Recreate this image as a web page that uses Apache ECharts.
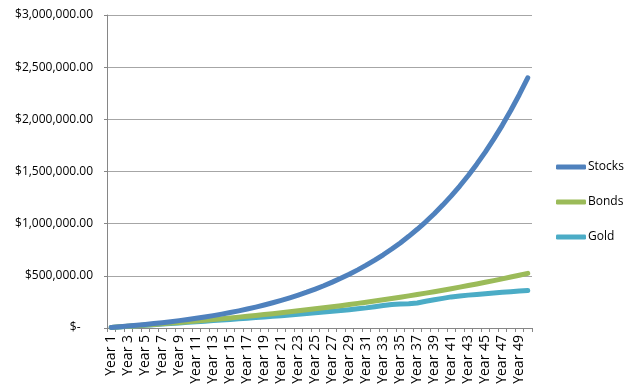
<!DOCTYPE html>
<html>
<head>
<meta charset="utf-8">
<script src="https://cdn.jsdelivr.net/npm/echarts@6/dist/echarts.min.js"></script>
<style>
html,body{margin:0;padding:0;background:#fff;}
#chart{width:640px;height:389px;}
</style>
</head>
<body>
<div id="chart"></div>
<script>
var years = [];
for (var i = 1; i <= 50; i++) years.push('Year ' + i);

var stocks = [5900, 12200, 19000, 26200, 33900, 42200, 51100, 60500, 70700, 81500,
  93100, 105500, 118800, 133000, 148300, 164500, 182000, 200600, 220500, 241900,
  264700, 289100, 315300, 343200, 373200, 405200, 439500, 476100, 515400, 557300,
  602200, 650300, 701700, 756700, 815600, 878600, 946000, 1018100, 1095300, 1177900,
  1266200, 1360800, 1461900, 1570200, 1686000, 1809800, 1942500, 2084300, 2236100, 2398500];

var bonds = [5400, 10900, 16500, 22300, 28300, 34300, 40600, 47000, 53500, 60200,
  67100, 74200, 81400, 88800, 96400, 104200, 112200, 120300, 128700, 137300,
  146100, 155100, 164400, 173900, 183600, 193600, 203800, 214200, 225000, 236000,
  247300, 258800, 270700, 282800, 295200, 308000, 321100, 334500, 348200, 362300,
  376700, 391500, 406700, 422200, 438100, 454500, 471200, 488400, 506000, 524000];

var gold = [5000, 10000, 16000, 21000, 27000, 32000, 38000, 43000, 49000, 54000,
  60000, 65000, 71000, 76000, 82000, 88000, 94000, 100000, 106000, 112000,
  118000, 125000, 132000, 139000, 146000, 153000, 160000, 168000, 176000, 184000,
  193000, 204000, 215000, 225000, 230000, 233000, 240000, 256000, 270000, 284000,
  298000, 307000, 315000, 322000, 329000, 336000, 342000, 348000, 354000, 360000];

var seriesNames = ['Stocks', 'Bonds', 'Gold'];
var seriesColors = ['#4f81bd', '#9bbb59', '#4bacc6'];
var seriesData = [stocks, bonds, gold];

var chart = echarts.init(document.getElementById('chart'));
var FONT = '"Open Sans", "Liberation Sans", Arial, sans-serif';

function fmt(v) {
  if (v === 0) return '$-    ';
  return '$' + v.toLocaleString('en-US', {minimumFractionDigits: 2, maximumFractionDigits: 2});
}

chart.setOption({
  animation: false,
  backgroundColor: '#fff',
  grid: {left: 107, right: 108, top: 15, bottom: 61, containLabel: false},
  legend: {
    orient: 'vertical',
    left: 556,
    top: 161,
    padding: 0,
    itemWidth: 30,
    itemHeight: 5,
    itemGap: 23,
    icon: 'roundRect',
    data: seriesNames,
    textStyle: {fontFamily: FONT, fontSize: 12, color: '#000', padding: [0, 0, 0, -3]}
  },
  xAxis: {
    type: 'category',
    data: years,
    boundaryGap: true,
    axisLine: {lineStyle: {color: '#868686', width: 1}},
    axisTick: {show: true, interval: 0, length: 4, lineStyle: {color: '#868686'}},
    axisLabel: {interval: 1, rotate: 90, fontFamily: FONT, fontSize: 14, color: '#000', margin: 7}
  },
  yAxis: {
    type: 'value',
    min: 0,
    max: 3000000,
    interval: 500000,
    axisLine: {show: true, lineStyle: {color: '#868686', width: 1}},
    axisTick: {show: true, length: 3, lineStyle: {color: '#868686'}},
    splitLine: {show: true, lineStyle: {color: '#a6a6a6', width: 1}},
    axisLabel: {formatter: fmt, fontFamily: FONT, fontSize: 12, color: '#000', margin: 14}
  },
  series: seriesNames.map(function (n, i) {
    return {
      name: n,
      type: 'line',
      data: seriesData[i],
      showSymbol: false,
      symbol: 'none',
      color: seriesColors[i],
      lineStyle: {width: 5, color: seriesColors[i], cap: 'round', join: 'round'},
      z: 3 - i
    };
  })
});
</script>
</body>
</html>
